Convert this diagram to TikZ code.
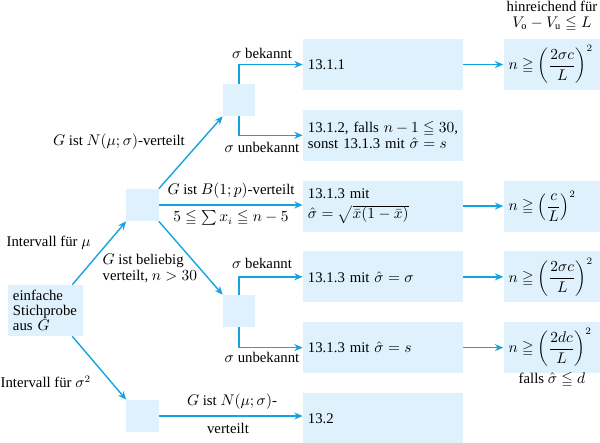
\documentclass[tikz,border=0pt]{standalone}
\usepackage{amsmath,amssymb}
\usepackage{fontspec}
\setmainfont{Liberation Serif}
\usetikzlibrary{positioning, arrows.meta, calc}
\definecolor{flowBlue}{RGB}{20,165,225}
\definecolor{boxBlue}{RGB}{222,241,252}

\begin{document}
\begin{tikzpicture}[x=0.025cm, y=-0.025cm, node distance=0.48cm,
				font=\fontsize{10.5}{11.5}\selectfont,
				res/.style={fill=boxBlue, minimum width=4cm, minimum height=1.275cm, text width=3.75cm, inner xsep=0.125cm, inner ysep=0pt, align=left},
				need/.style={fill=boxBlue, minimum width=2.425cm, minimum height=1.275cm, text width=2.175cm, inner xsep=0.125cm, inner ysep=0pt, align=left},
				jun/.style={fill=boxBlue, minimum size=0.8cm, inner sep=0pt},
				flow/.style={-{Stealth[length=6pt, width=5pt]}, flowBlue, line width=1pt},
				lbl/.style={inner sep=1pt}]
				\useasboundingbox (0,0) rectangle (600,442);
				% Ergebnisspalte
				\node[res] (r1) at (383,64.5) {13.1.1};
				\node[res, below=of r1] (r2) {13.1.2, falls $n-1 \leqq 30$,\\sonst 13.1.3 mit $\hat{\sigma}=s$};
				\node[res, below=of r2] (r3) {13.1.3 mit\\[3pt]$\hat{\sigma}=\sqrt{\bar{x}(1-\bar{x})}$};
				\node[res, below=of r3] (r4) {13.1.3 mit $\hat{\sigma}=\sigma$};
				\node[res, below=of r4] (r5) {13.1.3 mit $\hat{\sigma}=s$};
				\node[res, below=of r5] (r6) {13.2};
				% Stichprobenumfang
				\node[need, right=1cm of r1] (n1) {$n \geqq \left(\dfrac{2\sigma c}{L}\right)^{2}$};
				\node[need, right=1cm of r3] (n3) {$n \geqq \left(\dfrac{c}{L}\right)^{2}$};
				\node[need, right=1cm of r4] (n4) {$n \geqq \left(\dfrac{2\sigma c}{L}\right)^{2}$};
				\node[need, right=1cm of r5] (n5) {$n \geqq \left(\dfrac{2d c}{L}\right)^{2}$};
				\node[lbl, align=center] (head) at (552,16) {hinreichend für\\$V_{\mathrm{o}}-V_{\mathrm{u}} \leqq L$};
				\node[lbl] (falls) at (552,380) {falls $\hat{\sigma} \leqq d$};
				% Verzweigungen
				\node[fill=boxBlue, minimum width=1.875cm, minimum height=1.275cm, text width=1.625cm, inner xsep=0.125cm, inner ysep=0pt, align=left,
					font=\fontsize{10.5}{10.5}\selectfont] (src) at (45.5,310.5) {einfache\\Stichprobe\\aus $G$};
				\node[jun] (jmu) at (142.5,205) {};
				\node[jun] (js2) at (142.5,416) {};
				\node[jun] (jN) at (239,100) {};
				\node[jun] (jB) at (239,311) {};
				\coordinate (srcTop) at ($(src.north east)+(-11,0)$);
				\coordinate (srcBot) at ($(src.south east)+(-11,0)$);
				\draw[flow] (srcTop) -- (jmu.south west);
				\draw[flow] (srcBot) -- (js2.north west);
				\draw[flow] (jmu.north east) -- (jN.south west);
				\draw[flow] (jmu.south east) -- (jB.north west);
				\draw[flow] (jmu.east) -- (jmu.east -| r3.west);
				\draw[flow] (js2.east) -- (js2.east -| r6.west);
				\draw[flow] (jN.north) |- (r1.west);
				\draw[flow] (jN.south) |- (r2.west);
				\draw[flow] (jB.north) |- (r4.west);
				\draw[flow] (jB.south) |- (r5.west);
				\draw[flow] (r1.east) -- (n1.west);
				\draw[flow] (r3.east) -- (n3.west);
				\draw[flow] (r4.east) -- (n4.west);
				\draw[flow] (r5.east) -- (n5.west);
				% Beschriftungen
				\node[lbl, anchor=west] (lmu) at (5,243) {Intervall für $\mu$};
				\node[lbl, anchor=west] (ls2) at (-1,382) {Intervall für $\sigma^{2}$};
				\node[lbl] (lN) at (119,142) {$G$ ist $N(\mu;\sigma)$-verteilt};
				\node[lbl] (lB) at (231,191) {$G$ ist $B(1;p)$-verteilt};
				\node[lbl] (lsum) at (231,218) {$5 \leqq \sum x_i \leqq n-5$};
				\node[lbl, anchor=west, align=left] (lbel) at (101,268) {$G$ ist beliebig\\verteilt, $n>30$};
				\node[lbl] (lN2a) at (232,402) {$G$ ist $N(\mu;\sigma)$-};
				\node[lbl] (lN2b) at (228,428) {verteilt};
				\node[lbl] (k1) at (262,53) {$\sigma$ bekannt};
				\node[lbl] (u1) at (262,147) {$\sigma$ unbekannt};
				\node[lbl] (k2) at (262,263) {$\sigma$ bekannt};
				\node[lbl] (u2) at (262,357) {$\sigma$ unbekannt};
			\end{tikzpicture}
\end{document}
